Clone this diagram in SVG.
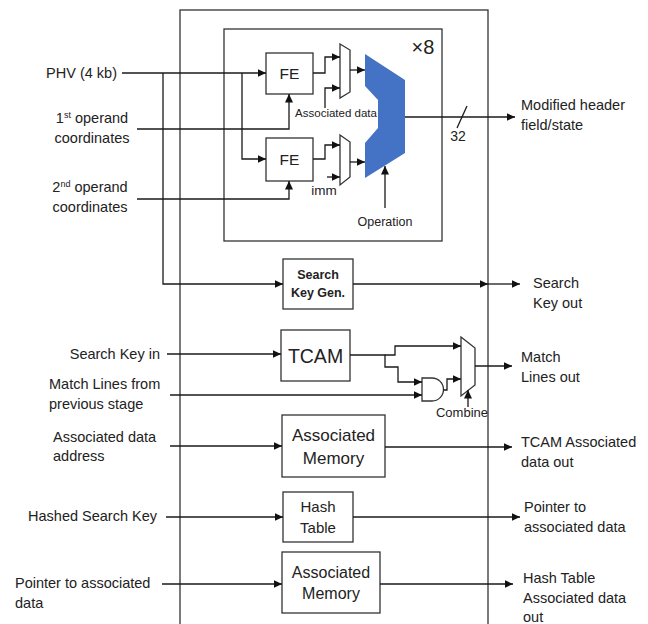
<svg xmlns="http://www.w3.org/2000/svg" width="648" height="624" viewBox="0 0 648 624">
<defs>
<marker id="ah" markerUnits="userSpaceOnUse" markerWidth="9" markerHeight="8" refX="8.5" refY="4" orient="auto"><path d="M0,0 L8.5,4 L0,8 z" fill="#111"/></marker>
<style>
text{font-family:"Liberation Sans",Arial,sans-serif;fill:#222}
.l{font-size:14.5px}
.box{fill:#fff;stroke:#333;stroke-width:1.3}
.w{fill:none;stroke:#1a1a1a;stroke-width:1.3}
.a{fill:none;stroke:#1a1a1a;stroke-width:1.3;marker-end:url(#ah)}
.s{font-size:11.5px}
</style>
</defs>
<rect width="648" height="624" fill="#fff"/>
<g id="outer"><rect x="180" y="10" width="308" height="630" style="fill:none;stroke:#333;stroke-width:1.3"/></g>
<g id="alu-block">
<rect x="224" y="29" width="218" height="212" class="box"/>
<text x="423" y="54" font-size="20" text-anchor="middle">×8</text>
</g>
<g id="fe1"><rect x="266" y="53" width="47" height="41" class="box"/><text x="289.5" y="79" font-size="15.5" text-anchor="middle">FE</text></g>
<g id="fe2"><rect x="266" y="138" width="47" height="43" class="box"/><text x="289.5" y="165" font-size="15.5" text-anchor="middle">FE</text></g>
<g id="mux1"><polygon points="340,44 350,50 350,92 340,98" class="box"/></g>
<g id="mux2"><polygon points="340,135 350,142 350,177 340,185" class="box"/></g>
<g id="alu"><polygon points="365,54 405,80 405,153 365,178 365,143 378,128 378,100 365,86" fill="#4472C4"/></g>
<g id="skg"><rect x="283" y="259" width="70" height="50" class="box"/><text x="318" y="279" font-size="12.5" font-weight="bold" text-anchor="middle">Search</text><text x="318" y="297" font-size="12.5" font-weight="bold" text-anchor="middle">Key Gen.</text></g>
<g id="tcam"><rect x="281" y="330" width="69" height="51" class="box"/><text x="315.5" y="363" font-size="19.5" text-anchor="middle">TCAM</text></g>
<g id="and"><path d="M422,378 L432,378 A11.5,11.5 0 0 1 432,401 L422,401 Z" class="box"/></g>
<g id="cmux"><polygon points="461,337 475,348 475,385 461,396" class="box"/></g>
<g id="am1"><rect x="282" y="415" width="103" height="62" class="box"/><text x="333.5" y="441" font-size="17" text-anchor="middle">Associated</text><text x="333.5" y="464" font-size="17" text-anchor="middle">Memory</text></g>
<g id="ht"><rect x="283" y="492" width="70" height="50" class="box"/><text x="318" y="512" font-size="15" text-anchor="middle">Hash</text><text x="318" y="533" font-size="15" text-anchor="middle">Table</text></g>
<g id="am2"><rect x="282" y="552" width="98" height="61" class="box"/><text x="331" y="578" font-size="16" text-anchor="middle">Associated</text><text x="331" y="599" font-size="16" text-anchor="middle">Memory</text></g>
<g id="connectors">
<path d="M122,73 H266" class="a"/>
<path d="M163,73 V284 H283" class="a"/>
<path d="M242,73 V159 H266" class="a"/>
<path d="M137,129 H289 V94" class="a"/>
<path d="M137,199 H289 V181" class="a"/>
<path d="M313,73 H325 V57 H340" class="a"/>
<path d="M325,108 V88 H340" class="a"/>
<path d="M313,159 H325 V145 H340" class="a"/>
<path d="M327,177 H340" class="a"/>
<path d="M350,70 H365" class="a"/>
<path d="M350,162 H365" class="a"/>
<path d="M385,208 V166" class="a"/>
<path d="M405,117 H515" class="a"/>
<path d="M457,128 L467,106" class="w"/>
<path d="M353,284 H488" class="a"/>
<path d="M488,284 H520" class="a"/>
<path d="M167,354 H281" class="a"/>
<path d="M350,355 H385 V367 H398 V382 H422" class="a"/>
<path d="M385,355 H395 V346 H461" class="a"/>
<path d="M170,395 H422" class="a"/>
<path d="M443.5,390 H447 V379 H461" class="a"/>
<path d="M468,407 V390" class="a"/>
<path d="M475,366 H512" class="a"/>
<path d="M170,446 H282" class="a"/>
<path d="M385,447 H512" class="a"/>
<path d="M166,517 H283" class="a"/>
<path d="M353,517 H520" class="a"/>
<path d="M162,584 H282" class="a"/>
<path d="M380,584 H513" class="a"/>
</g>
<g id="labels">
<text x="336" y="117" class="s" text-anchor="middle">Associated data</text>
<text x="324" y="195" font-size="13.5" text-anchor="middle">imm</text>
<text x="385" y="226" font-size="12.5" text-anchor="middle">Operation</text>
<text x="458" y="141" font-size="14" text-anchor="middle">32</text>
<text x="462" y="417" font-size="13" text-anchor="middle">Combine</text>
<text x="117" y="78" class="l" text-anchor="end">PHV (4 kb)</text>
<text x="92" y="123" class="l" text-anchor="middle">1<tspan font-size="9" dy="-5">st</tspan><tspan dy="5"> operand</tspan></text>
<text x="92" y="143" class="l" text-anchor="middle">coordinates</text>
<text x="90" y="192" class="l" text-anchor="middle">2<tspan font-size="9" dy="-5">nd</tspan><tspan dy="5"> operand</tspan></text>
<text x="90" y="212" class="l" text-anchor="middle">coordinates</text>
<text x="160" y="359" class="l" text-anchor="end">Search Key in</text>
<text x="49" y="389" class="l">Match Lines from</text>
<text x="49" y="409" class="l">previous stage</text>
<text x="53" y="442" class="l">Associated data</text>
<text x="53" y="461" class="l">address</text>
<text x="157" y="521" class="l" text-anchor="end">Hashed Search Key</text>
<text x="15" y="588" class="l">Pointer to associated</text>
<text x="15" y="608" class="l">data</text>
<text x="521" y="110" class="l">Modified header</text>
<text x="521" y="130" class="l">field/state</text>
<text x="533" y="288" class="l">Search</text>
<text x="533" y="308" class="l">Key out</text>
<text x="521" y="362" class="l">Match</text>
<text x="521" y="382" class="l">Lines out</text>
<text x="521" y="447" class="l">TCAM Associated</text>
<text x="521" y="467" class="l">data out</text>
<text x="524" y="512" class="l">Pointer to</text>
<text x="524" y="532" class="l">associated data</text>
<text x="523" y="583" class="l">Hash Table</text>
<text x="523" y="603" class="l">Associated data</text>
<text x="523" y="622" class="l">out</text>
</g>
</svg>
